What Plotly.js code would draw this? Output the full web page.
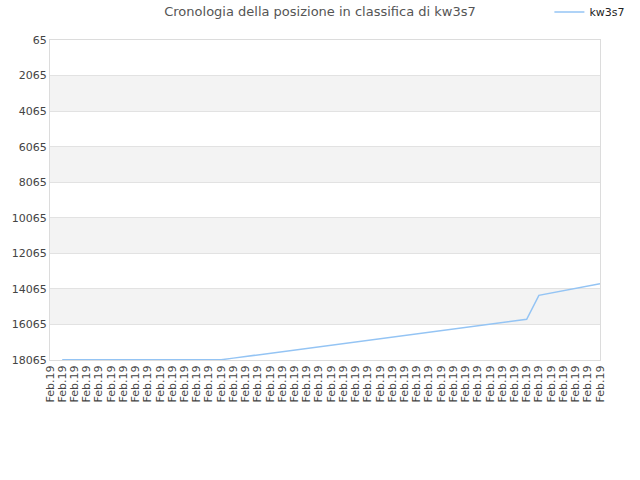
<!DOCTYPE html>
<html>
<head>
<meta charset="utf-8">
<script src="https://cdn.plot.ly/plotly-3.0.1.min.js"></script>
<style>
  body { margin: 0; background: #fff; }
  #plot { width: 640px; height: 480px; }
</style>
</head>
<body>
<div id="plot"></div>
<script>
// tick labels along the x axis (one per entry)
var labels = ["Feb.19","Feb.19","Feb.19","Feb.19","Feb.19","Feb.19","Feb.19","Feb.19","Feb.19","Feb.19",
  "Feb.19","Feb.19","Feb.19","Feb.19","Feb.19","Feb.19","Feb.19","Feb.19","Feb.19","Feb.19",
  "Feb.19","Feb.19","Feb.19","Feb.19","Feb.19","Feb.19","Feb.19","Feb.19","Feb.19","Feb.19",
  "Feb.19","Feb.19","Feb.19","Feb.19","Feb.19","Feb.19","Feb.19","Feb.19","Feb.19","Feb.19",
  "Feb.19","Feb.19","Feb.19","Feb.19","Feb.19","Feb.19"];

// ranking position (first entry has no value)
var positions = [null, 18050, 18050, 18050, 18050, 18050, 18050, 18050, 18050, 18050,
  18050, 18050, 18050, 18050, 18050, 17960, 17870, 17775, 17685, 17595,
  17505, 17415, 17320, 17230, 17140, 17050, 16960, 16865, 16775, 16685,
  16595, 16505, 16410, 16320, 16230, 16140, 16050, 15955, 15865, 15775,
  14430, 14300, 14170, 14040, 13905, 13775];

var yTicks = [65, 2065, 4065, 6065, 8065, 10065, 12065, 14065, 16065, 18065];

var idx = labels.map((l, i) => i);

var trace1 = {
  x: idx,
  y: positions,
  name: "kw3s7",
  mode: "lines",
  line: {color: 'rgb(148,196,244)', width: 1.5},
  connectgaps: false,
  type: "scatter"
};

// alternating grey bands between y ticks
var bands = [];
for (var i = 1; i < yTicks.length - 1; i += 2) {
  bands.push({
    type: 'rect', xref: 'paper', yref: 'y', layer: 'below',
    x0: 0, x1: 1, y0: yTicks[i], y1: yTicks[i + 1],
    fillcolor: '#f3f3f3', line: {width: 0}
  });
}

var layout = {
  width: 640,
  height: 480,
  margin: {l: 50, r: 40, t: 40, b: 120},
  paper_bgcolor: '#fff',
  plot_bgcolor: '#fff',
  font: {family: 'DejaVu Sans, sans-serif', size: 11, color: '#333'},
  title: {
    text: 'Cronologia della posizione in classifica di kw3s7',
    font: {family: 'DejaVu Sans, sans-serif', size: 13, color: '#555'},
    x: 0.5, xanchor: 'center', y: 0.985, yanchor: 'top'
  },
  showlegend: true,
  legend: {
    xref: 'container', yref: 'container',
    x: 0.985, xanchor: 'right', y: 0.975, yanchor: 'middle',
    orientation: 'h', font: {size: 11, color: '#222'},
    itemwidth: 30, bgcolor: 'rgba(0,0,0,0)'
  },
  xaxis: {
    range: [0, labels.length - 1],
    tickmode: 'array',
    tickvals: idx,
    ticktext: labels,
    tickangle: -90,
    showgrid: false,
    zeroline: false,
    showline: true,
    linecolor: '#dcdcdc',
    mirror: true,
    ticks: '',
    tickfont: {size: 11, color: '#444'}
  },
  yaxis: {
    range: [18065, 65],
    tickmode: 'array',
    tickvals: yTicks,
    ticktext: yTicks.map(String),
    showgrid: true,
    gridcolor: '#e2e2e2',
    zeroline: false,
    showline: true,
    linecolor: '#dcdcdc',
    mirror: true,
    ticks: '',
    tickfont: {size: 11, color: '#444'}
  },
  shapes: bands
};

Plotly.newPlot("plot", [trace1], layout, {displayModeBar: false, staticPlot: true});
</script>
</body>
</html>
